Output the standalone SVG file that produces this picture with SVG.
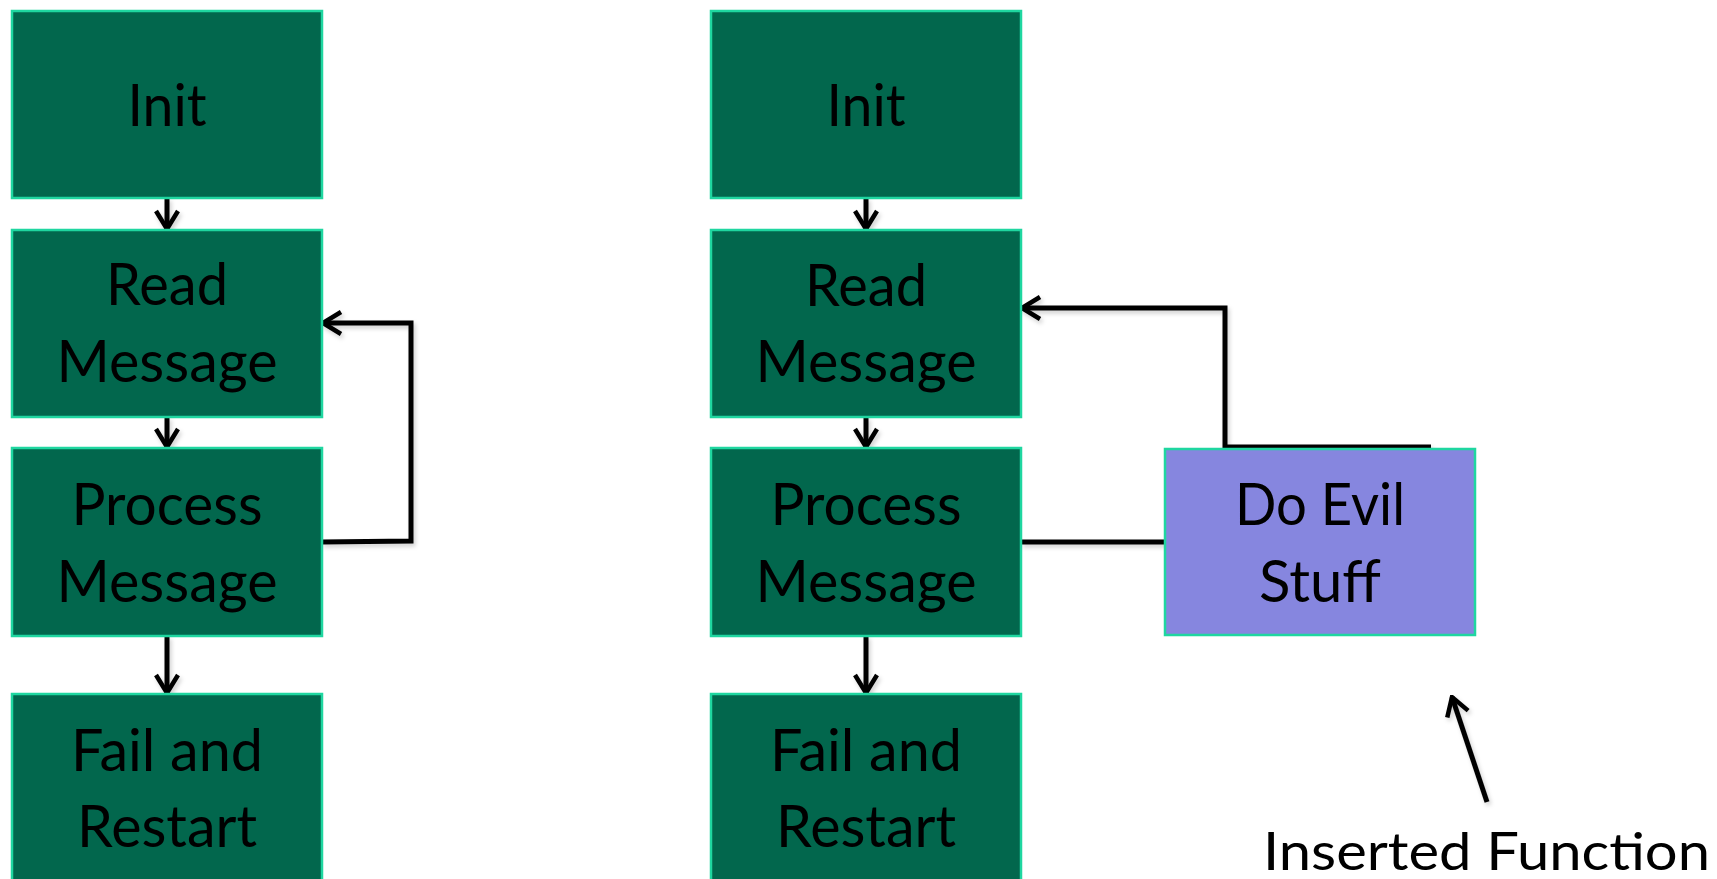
<svg xmlns="http://www.w3.org/2000/svg" width="1717" height="879" viewBox="0 0 1717 879">
<style>
.box{fill:#02674D;stroke:#1FD6A0;stroke-width:2.5}
.evil{fill:#8686DF;stroke:#1FD6A0;stroke-width:2.5}
.t{font-family:Lato,"Open Sans","Liberation Sans",sans-serif;font-size:58px;fill:#000;text-anchor:middle}
.lbl{font-family:Lato,"Open Sans","Liberation Sans",sans-serif;font-size:52px;fill:#000}
.c{fill:none;stroke:#000;stroke-width:5;stroke-linejoin:miter}
</style>
<defs>
<marker id="ah" viewBox="0 0 22 26" refX="20" refY="13" markerWidth="22" markerHeight="26" markerUnits="userSpaceOnUse" orient="auto">
<path d="M2,2 L20,13 L2,24" fill="none" stroke="#000" stroke-width="4.5" stroke-linejoin="miter"/>
</marker>
<filter id="sh" filterUnits="userSpaceOnUse" x="0" y="0" width="1717" height="879">
<feDropShadow dx="2" dy="3" stdDeviation="2" flood-color="#000" flood-opacity="0.18"/>
</filter>
</defs>

<g id="connectors" filter="url(#sh)">
<path class="c" d="M167,198 L167,229" marker-end="url(#ah)"/>
<path class="c" d="M167,417 L167,447" marker-end="url(#ah)"/>
<path class="c" d="M167,636 L167,693" marker-end="url(#ah)"/>
<path class="c" d="M322,542 L411,541 L411,323 L323,323" marker-end="url(#ah)"/>
<path class="c" d="M866,198 L866,229" marker-end="url(#ah)"/>
<path class="c" d="M866,417 L866,447" marker-end="url(#ah)"/>
<path class="c" d="M866,636 L866,693" marker-end="url(#ah)"/>
<path class="c" d="M1021,542 L1165,542"/>
<path class="c" d="M1431,447 L1225,447 L1225,308 L1022,308" marker-end="url(#ah)"/>
<path class="c" d="M1487,802 L1452,697" marker-end="url(#ah)"/>
</g>

<g id="L-init"><rect class="box" x="12" y="11" width="310" height="187"/><text class="t" x="167" y="126" textLength="79" lengthAdjust="spacingAndGlyphs">Init</text></g>
<g id="L-read"><rect class="box" x="12" y="230" width="310" height="187"/><text class="t" x="167" y="305" textLength="122" lengthAdjust="spacingAndGlyphs">Read</text><text class="t" x="167" y="382" textLength="221" lengthAdjust="spacingAndGlyphs">Message</text></g>
<g id="L-process"><rect class="box" x="12" y="448" width="310" height="188"/><text class="t" x="167" y="525" textLength="191" lengthAdjust="spacingAndGlyphs">Process</text><text class="t" x="167" y="602" textLength="221" lengthAdjust="spacingAndGlyphs">Message</text></g>
<g id="L-fail"><rect class="box" x="12" y="694" width="310" height="200"/><text class="t" x="167" y="771" textLength="192" lengthAdjust="spacingAndGlyphs">Fail and</text><text class="t" x="167" y="847" textLength="180" lengthAdjust="spacingAndGlyphs">Restart</text></g>

<g id="R-init"><rect class="box" x="711" y="11" width="310" height="187"/><text class="t" x="866" y="126" textLength="79" lengthAdjust="spacingAndGlyphs">Init</text></g>
<g id="R-read"><rect class="box" x="711" y="230" width="310" height="187"/><text class="t" x="866" y="306" textLength="122" lengthAdjust="spacingAndGlyphs">Read</text><text class="t" x="866" y="382" textLength="221" lengthAdjust="spacingAndGlyphs">Message</text></g>
<g id="R-process"><rect class="box" x="711" y="448" width="310" height="188"/><text class="t" x="866" y="525" textLength="191" lengthAdjust="spacingAndGlyphs">Process</text><text class="t" x="866" y="602" textLength="221" lengthAdjust="spacingAndGlyphs">Message</text></g>
<g id="R-fail"><rect class="box" x="711" y="694" width="310" height="200"/><text class="t" x="866" y="771" textLength="192" lengthAdjust="spacingAndGlyphs">Fail and</text><text class="t" x="866" y="847" textLength="180" lengthAdjust="spacingAndGlyphs">Restart</text></g>

<g id="evil"><rect class="evil" x="1165" y="449" width="310" height="186"/><text class="t" x="1320" y="525" textLength="170" lengthAdjust="spacingAndGlyphs">Do Evil</text><text class="t" x="1320" y="602" textLength="122" lengthAdjust="spacingAndGlyphs">Stuff</text></g>

<g id="label"><text class="lbl" x="1263" y="870" textLength="447" lengthAdjust="spacingAndGlyphs">Inserted Function</text></g>
</svg>
